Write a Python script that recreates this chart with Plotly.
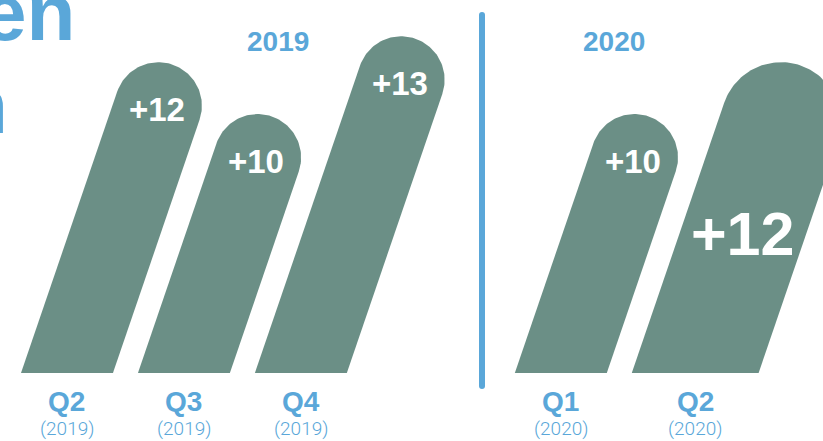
import numpy as np
import plotly.graph_objects as go

# ---------------- data ----------------
quarters = ["Q2", "Q3", "Q4", "Q1", "Q2"]
years = ["2019", "2019", "2019", "2020", "2020"]
values = [12, 10, 13, 10, 12]
value_labels = ["+12", "+10", "+13", "+10", "+12"]
highlight = [False, False, False, False, True]
group_titles = ["2019", "2020"]
title_fragments = ["en", "n"]

# ---------------- style / layout constants ----------------
W, H = 823, 441
BASE_PX = 373.0          # pixel row of the baseline
PX_PER_UNIT = 25.9       # vertical pixels per value unit
SLANT = 0.342            # horizontal shift per vertical pixel
THETA = np.arctan(SLANT)
R_NORMAL = 43.5
R_BIG = 60.0
GAP = 25.0
GROUP_GAP = 168.0
FIRST_LEFT = 21.0
SEP_X = 482.0
GREEN = "#6b8f86"
BLUE = "#5aa7d9"
FONT = "Liberation Sans, Arial, sans-serif"
LIGHT_FONT = "Roboto, Liberation Sans, sans-serif"

Y_RANGE = [-(H - BASE_PX) / PX_PER_UNIT, BASE_PX / PX_PER_UNIT]


def yv(py):
    """pixel row -> value units"""
    return (BASE_PX - py) / PX_PER_UNIT


# bottom centres computed from widths, gaps and groups
radii = [R_BIG if h else R_NORMAL for h in highlight]
half_w = [r / np.cos(THETA) for r in radii]
centers = []
left = FIRST_LEFT
for i, hw in enumerate(half_w):
    if i > 0:
        left += GROUP_GAP if years[i] != years[i - 1] else GAP
    centers.append(left + hw)
    left += 2 * hw

fig = go.Figure()

ux, uy = np.sin(THETA), np.cos(THETA)   # bar axis direction (up)
for i, v in enumerate(values):
    r = radii[i]
    hw = half_w[i]
    xc = centers[i]
    h = v * PX_PER_UNIT - r            # cap centre height above baseline (px)
    cx = xc + SLANT * h
    a = np.linspace(-THETA, np.pi - THETA, 80)
    xs = [xc - hw, xc + hw] + list(cx + r * np.cos(a)) + [xc - hw]
    ys_px = [0, 0] + list(h + r * np.sin(a)) + [0]
    ys = [p / PX_PER_UNIT for p in ys_px]
    fig.add_trace(go.Scatter(x=xs, y=ys, mode="lines", fill="toself",
                             fillcolor=GREEN, line=dict(width=0, color=GREEN),
                             hoverinfo="skip", showlegend=False))
    # value label inside the bar
    off = 118 if highlight[i] else 4
    lx = cx - off * ux
    ly = (h - off * uy) / PX_PER_UNIT
    fig.add_annotation(x=lx, y=ly, text=value_labels[i], showarrow=False,
                       xanchor="center", yanchor="middle",
                       font=dict(family=FONT, size=61 if highlight[i] else 33,
                                 color="white", weight="bold"))
    # quarter label
    fig.add_annotation(x=xc, y=yv(401), text=quarters[i], showarrow=False,
                       xanchor="center", yanchor="middle",
                       font=dict(family=FONT, size=28, color=BLUE, weight="bold"))
    fig.add_annotation(x=xc, y=yv(428), text="(" + years[i] + ")", showarrow=False,
                       xanchor="center", yanchor="middle",
                       font=dict(family=LIGHT_FONT, size=19, color=BLUE, weight=300))

# group titles
for gx, gt in zip([278, 614], group_titles):
    fig.add_annotation(x=gx, y=yv(41), text=gt, showarrow=False,
                       xanchor="center", yanchor="middle",
                       font=dict(family=FONT, size=28, color=BLUE, weight="bold"))

# separator with rounded ends
fig.add_trace(go.Scatter(x=[SEP_X, SEP_X], y=[yv(15), yv(386)], mode="lines+markers",
                         line=dict(color=BLUE, width=6),
                         marker=dict(color=BLUE, size=6, line=dict(width=0)),
                         hoverinfo="skip", showlegend=False))

# cropped title fragments
fig.add_annotation(x=77, y=yv(12), text=title_fragments[0], showarrow=False,
                   xanchor="right", yanchor="middle",
                   font=dict(family=FONT, size=80, color=BLUE, weight="bold"))
fig.add_annotation(x=10, y=yv(105), text=title_fragments[1], showarrow=False,
                   xanchor="right", yanchor="middle",
                   font=dict(family=FONT, size=80, color=BLUE, weight="bold"))

fig.update_layout(width=W, height=H, margin=dict(l=0, r=0, t=0, b=0),
                  paper_bgcolor="white", plot_bgcolor="white",
                  xaxis=dict(range=[0, W], visible=False, fixedrange=True),
                  yaxis=dict(range=Y_RANGE, visible=False, fixedrange=True),
                  showlegend=False)

fig.write_html("out.html", config={"displayModeBar": False},
               post_script="document.body.style.margin='0';document.body.style.overflow='hidden';")
